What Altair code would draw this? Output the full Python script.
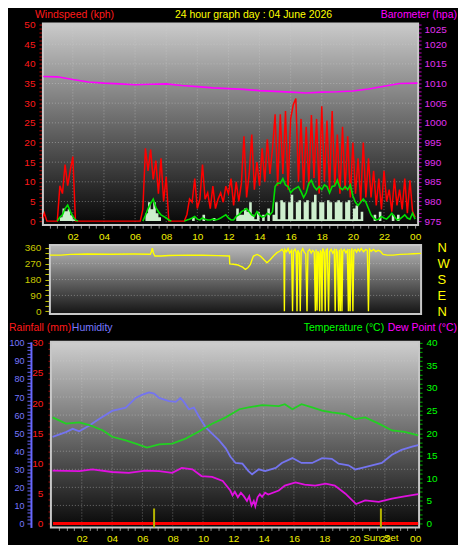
import altair as alt
import pandas as pd

FONT = "Liberation Sans"

# ---------------- data ----------------
hour_grid = [2, 4, 6, 8, 10, 12, 14, 16, 18, 20, 22]
x_tick_hours = [0.5 * k for k in range(1, 49)]

# wind, 10-minute samples from 00:00 to 24:00
wind_hours = [k / 6 for k in range(145)]
wind_gust = [
    0, 2, 0, 0, 0, 0,
    0, 9, 7, 14.4, 9, 12.9,
    16.4, 0, 0, 0, 0, 0,
    0, 0, 0, 0, 0, 0,
    0, 0, 0, 0, 0, 0,
    0, 0, 0, 0, 0, 0,
    0, 0, 0, 3, 18.5, 12.8,
    18.2, 10.6, 15.4, 7, 16, 5,
    11.3, 0, 0, 0, 0, 0,
    0, 0, 1.7, 5.6, 4.8, 10.8,
    3.2, 5.6, 14.4, 5.6, 7.2, 3.2,
    8.9, 3.2, 5.6, 7.2, 4.8, 8.9,
    7, 10.8, 4, 10, 5, 9.6,
    21.6, 6, 12, 22, 8, 15,
    9, 18.5, 10, 20.8, 12, 18.5,
    27.2, 9, 27.2, 12, 28, 8,
    26, 29.6, 31.2, 10, 26, 8,
    24, 9, 27, 11, 26, 7,
    29.2, 10, 25.6, 8, 28, 9,
    22, 7, 24, 8, 21.6, 6,
    20, 7, 16, 5, 20, 6,
    16, 6, 12.8, 4, 10.8, 3,
    12.8, 5, 8, 2.4, 10.8, 4,
    8, 3, 10.8, 2, 10.4, 2.5,
    1,
]
wind_speed = [
    0, 0, 0, 0, 0, 0,
    0, 1, 3.2, 2.5, 3, 1.5,
    0.5, 0, 0, 0, 0, 0,
    0, 0, 0, 0, 0, 0,
    0, 0, 0, 0, 0, 0,
    0, 0, 0, 0, 0, 0,
    0, 0, 0, 0, 2, 4.8,
    3, 4.8, 2, 1, 0, 0,
    0, 0, 0, 0, 0, 0,
    0, 0, 0, 0, 1, 0,
    0, 0, 1.6, 0, 0, 0,
    0.8, 0, 0, 0, 0, 0,
    0, 0, 0, 3.2, 1.6, 1.6,
    3.2, 2.4, 4.8, 1.6, 0.5, 2.4,
    0, 1.6, 0, 3.2, 0, 1.6,
    4.8, 0.5, 5.3, 4.8, 0.5, 4.8,
    6.7, 0.5, 4.8, 5.3, 0.5, 4.8,
    5.3, 0.5, 4.8, 6.7, 0.5, 4.8,
    4.8, 0.5, 5.3, 4.8, 0.5, 4.8,
    5.3, 4.8, 0.5, 4.8, 5.3, 0.5,
    3.2, 4, 0.5, 2.4, 0, 0,
    0, 0, 1.6, 0, 2.4, 0,
    0, 0, 0, 1.6, 0, 1.6,
    0, 0, 0, 0, 0, 0,
    0,
]
N = None
wind_avg = [
    N, N, N, N, N, N,
    0, 1, 1.6, 3.2, 4.1, 2.5,
    1.2, 0.3, 0, N, N, N,
    N, N, N, N, N, N,
    N, N, N, N, N, N,
    N, N, N, N, N, N,
    N, N, N, 0, 1.5, 3.2,
    4.5, 5.6, 3.5, 2.4, 1.6, 1.2,
    0.8, 0.3, 0, N, N, N,
    N, 0, 0.3, 0.5, 0.8, 1.2,
    0.5, 0.3, 0.8, 0.5, 0.3, 0.3,
    0.5, 0.3, 0.5, 0.8, 1.2, 1.6,
    0.8, 0.3, 0.3, 1.2, 1.6, 2.4,
    2.8, 3.2, 2.4, 1.6, 1.2, 2.4,
    1.6, 1, 1.2, 2, 1.6, 2.4,
    8.8, 9.7, 9.6, 10.8, 9.2, 8.8,
    7.2, 8, 8.4, 8.8, 7.5, 6,
    7.2, 9.6, 10.4, 8.8, 8, 8.8,
    8, 9.2, 8.8, 7.2, 8.8, 9,
    10.4, 8.5, 8, 8.8, 8, 9.2,
    6.4, 4.8, 4, 4.8, 5.6, 4.8,
    3.2, 1.6, 0.8, 0.3, 0.5, 1.2,
    0.8, 0.5, 1.2, 2, 1.2, 0.3,
    0.5, 1, 1.6, 0.8, 0.5, 2,
    0.5,
]
wind_grid = [5, 10, 15, 20, 25, 30, 35, 40, 45]

baro_hours = [0.1, 1, 2, 3, 4, 5, 6, 7, 8, 9, 10, 11, 12, 13, 14, 15, 16,
              17, 18, 19, 20, 21, 22, 23, 24.15]
baro_hpa = [1011.8, 1011.7, 1011.0, 1010.4, 1010.1, 1009.9, 1009.7, 1009.8,
            1009.9, 1009.5, 1009.2, 1008.9, 1008.7, 1008.5, 1008.2, 1008.0,
            1007.8, 1007.6, 1007.8, 1007.9, 1008.1, 1008.6, 1009.3, 1010.0,
            1010.1]

# wind direction samples (hour, degrees)
wind_dir_samples = [
    (0.08, 318), (0.8, 318), (1.4, 322), (2.5, 324), (4.0, 323), (5.5, 324),
    (6.6, 323), (6.68, 340), (6.73, 358), (6.8, 330), (6.9, 313), (7.3, 313),
    (7.8, 316), (9.0, 318), (10.0, 317), (11.0, 315), (11.74, 313),
    (11.76, 268), (12.0, 266), (12.3, 262), (12.45, 256), (12.6, 250),
    (12.78, 237), (12.95, 248), (13.1, 265), (13.2, 290), (13.3, 313),
    (13.54, 322), (13.75, 313), (13.97, 293), (14.18, 275), (14.4, 293),
    (14.6, 313), (14.83, 332), (15.0, 340), (15.16, 351),
    (15.2, 345), (15.28, 335), (15.31, 0), (15.34, 350), (15.45, 338),
    (15.55, 355), (15.65, 330), (15.78, 345), (15.84, 0), (15.9, 340),
    (16.0, 352), (16.08, 332), (16.13, 0), (16.18, 345), (16.28, 328),
    (16.34, 0), (16.4, 338), (16.5, 355), (16.6, 335), (16.7, 325),
    (16.78, 0), (16.84, 340), (16.95, 350), (17.05, 330), (17.15, 345),
    (17.25, 335), (17.32, 0), (17.37, 350), (17.43, 5), (17.48, 340),
    (17.55, 328), (17.6, 0), (17.65, 345), (17.7, 335), (17.75, 0),
    (17.8, 355), (17.9, 332), (17.96, 0), (18.02, 345), (18.1, 352),
    (18.18, 0), (18.25, 338), (18.35, 350), (18.45, 330), (18.55, 345),
    (18.61, 0), (18.67, 352), (18.75, 335), (18.83, 0), (18.88, 348),
    (18.94, 0), (19.0, 355), (19.05, 0), (19.1, 340), (19.2, 350),
    (19.3, 332), (19.4, 345), (19.47, 0), (19.52, 352), (19.58, 0),
    (19.64, 340), (19.7, 355), (19.76, 0), (19.82, 345), (19.9, 350),
    (20.0, 335), (20.1, 352), (20.2, 340), (20.3, 355), (20.45, 338),
    (20.6, 350), (20.7, 345), (20.77, 0), (20.84, 352), (20.95, 340),
    (21.1, 350), (21.25, 338), (21.4, 345), (21.55, 340), (21.72, 322),
    (22.0, 318), (22.37, 318), (22.82, 322), (23.28, 324), (23.7, 326),
    (24.19, 328),
]
dir_grid = [90, 180, 270]
compass_deg = [0, 90, 180, 270, 360]

hum_hours = [0.07, 0.95, 1.4, 1.83, 2.5, 3.14, 4.0, 4.9, 5.56, 6.0, 6.44, 6.77,
             7.1, 7.75, 8.2, 8.5, 8.7, 9.07, 9.4, 9.7, 10.17, 10.6, 11.05, 11.5,
             11.8, 12.15, 12.6, 13.0, 13.24, 13.68, 14.1, 14.8, 15.2, 15.9, 16.5,
             17.2, 17.86, 18.5, 18.95, 19.6, 20.05, 20.5, 21.15, 21.8, 22.47,
             23.1, 23.8, 24.2]
humidity = [47.9, 50.6, 52.4, 51, 54.2, 57.8, 62.3, 64.1, 69.5, 71.3, 72.6, 71.9,
            69.5, 67.7, 67.3, 69.5, 67.7, 63.2, 64.1, 59.6, 53.3, 49.7, 46.1, 41.6,
            37.1, 33.5, 33.1, 29.0, 27.2, 30, 29, 30.8, 33.5, 36.2, 33.5,
            33.5, 36.2, 35.8, 33.1, 32.2, 29.9, 30.8, 32.2, 33.5, 38,
            40.7, 42.5, 43.4]
temp_hours = [0.07, 0.95, 1.83, 2.5, 3.4, 4.0, 4.9, 5.56, 6.3, 7.1, 7.97, 8.85,
              9.7, 10.6, 11.5, 12.4, 13.0, 13.9, 15.0, 15.4, 15.9, 16.5, 17.2,
              17.86, 18.5, 19.4, 20.05, 20.7, 21.6, 22.47, 23.3, 24.2]
temperature = [23.5, 22.1, 22.4, 21.8, 20.6, 19.2, 18.4, 17.7, 16.8, 17.5, 17.7, 18.8,
               20.3, 22.1, 23.5, 25.3, 25.7, 26.2, 26, 26.4, 25.3, 26.4, 25.7,
               25, 24.6, 24.2, 23.1, 23.5, 22.1, 20.6, 20.3, 19.5]
dew_hours = [0.07, 1.83, 2.7, 4.0, 5.1, 6.2, 7.1, 7.97, 8.6, 9.3, 9.9, 10.6, 11.3,
             11.8, 11.95, 12.1, 12.3, 12.5, 12.7, 12.9, 13.05, 13.2, 13.35, 13.45,
             13.6, 13.75, 13.9, 14.1, 14.3, 15.0, 15.4, 16.1, 16.7, 17.4, 18.1,
             18.7, 19.4, 20.1, 20.7, 21.6, 22.47, 23.3, 24.2]
dew_point = [11.7, 11.6, 12, 11.4, 11.2, 11.7, 11.6, 11.2, 12.3, 12, 10.5, 10.3, 9.4,
             7.3, 6.2, 7.0, 5.8, 6.8, 6.0, 5.0, 6.0, 4.0, 5.0, 3.8,
             5.8, 6.5, 5.9, 6.8, 6.4, 7.3, 8.4, 9.1, 8.6, 8.4, 8.8,
             8.4, 6.6, 4.3, 5.1, 4.8, 5.5, 6, 6.5]
rain_hours = [0.1, 24.2]
rain_mm = [0, 0]
hum_grid = [10, 20, 30, 40, 50, 60, 70, 80, 90]
sun_hours = [6.77, 21.74]
sunset_hour = [21.74]

# ---------------- layout constants ----------------
VIEW_W = 379
P1_X0, P1_X1, P1_H = 0, 376, 202
P2_X0, P2_X1, P2_PH, P2_H = 7, 379, 69, 77
P3_X0, P3_X1, P3_H = 8, 377, 186

HOUR_EXPR = ("datum.value % 2 == 0 ? ((datum.value % 24) < 10 ? '0' : '') + "
             "(datum.value % 24) : ''")
COMPASS_EXPR = ("datum.value == 90 ? 'E' : datum.value == 180 ? 'S' : "
                "datum.value == 270 ? 'W' : 'N'")


def every(n):
    return f"datum.value % {n} == 0 ? '' + datum.value : ''"


XAXIS = alt.Axis(orient="bottom", values=x_tick_hours, labelExpr=HOUR_EXPR,
                 labelColor="#f0f000", tickColor="#909090", tickSize=3,
                 labelPadding=3, labelFont=FONT, labelFontSize=10,
                 labelOverlap=False, labelFlush=False, title=None,
                 grid=False, domain=False)


def yaxis(orient, values, n, color, tcolor, offset, tsize, pad, size=10,
          domain=False, dcolor="#000000", flush=False):
    return alt.Axis(orient=orient, values=list(values), labelExpr=every(n),
                    labelColor=color, tickColor=tcolor, tickSize=tsize,
                    labelPadding=pad, labelFont=FONT, labelFontSize=size,
                    offset=offset, title=None, grid=False, domain=domain,
                    domainColor=dcolor, domainWidth=2, labelOverlap=False,
                    labelFlush=flush)


def grad(top, bottom):
    return {"gradient": "linear", "x1": 0, "y1": 0, "x2": 0, "y2": 1,
            "stops": [{"offset": 0, "color": top}, {"offset": 1, "color": bottom}]}


def frame(x0, x1, h, top, bottom):
    return alt.Chart(pd.DataFrame({"k": [0]})).mark_rect(
        fill=grad(top, bottom), stroke="#c8c8c8", strokeWidth=2
    ).encode(x=alt.value(x0), x2=alt.value(x1), y=alt.value(0), y2=alt.value(h))


def label(text, x, y, color, align="left", baseline="top", size=11):
    return alt.Chart(pd.DataFrame({"t": [text]})).mark_text(
        align=align, baseline=baseline, font=FONT, fontSize=size, color=color
    ).encode(x=alt.value(x), y=alt.value(y), text="t:N")


GRID = dict(color="#d0d0d0", strokeDash=[1, 2], strokeWidth=1, opacity=0.45)

# ---------------- panel 1 : wind + barometer ----------------
x1 = alt.Scale(domain=[0.077, 24.19], range=[P1_X0, P1_X1], nice=False, zero=False)
y_wind = alt.Scale(domain=[-1.015, 50.25], nice=False, zero=False)
y_baro = alt.Scale(domain=[973.985, 1025.25], nice=False, zero=False)
WIND_AX = yaxis("left", range(0, 51), 5, "#ff1a1a", "#b00000", 0, 4, 4)
BARO_AX = yaxis("right", range(975, 1026), 5, "#e030f0", "#c000c0", -3, 3, 3, flush=2)

wind_df = pd.DataFrame({"h": wind_hours, "gust": wind_gust, "spd": wind_speed})
rows, seg, on = [], 0, False
for h, v in zip(wind_hours, wind_avg):
    if v is None:
        on = False
        continue
    if not on:
        seg += 1
    on = True
    rows.append({"h": h, "avg": v, "seg": seg})
avg_df = pd.DataFrame(rows)

bg1 = frame(P1_X0, P1_X1, P1_H, "#cacaca", "#060606")
grid1y = alt.Chart(pd.DataFrame({"v": wind_grid})).mark_rule(**GRID).encode(
    y=alt.Y("v:Q", scale=y_wind, axis=WIND_AX), x=alt.value(P1_X0), x2=alt.value(P1_X1))
grid1x = alt.Chart(pd.DataFrame({"h": hour_grid})).mark_rule(**GRID).encode(
    x=alt.X("h:Q", scale=x1, axis=XAXIS))
gust = alt.Chart(wind_df).mark_line(color="#ff0000", strokeWidth=1.5, clip=True).encode(
    x=alt.X("h:Q", scale=x1, axis=XAXIS),
    y=alt.Y("gust:Q", scale=y_wind, axis=WIND_AX))
pale = alt.Chart(wind_df).mark_area(
    interpolate="step-after", color="#cdeecd", clip=True
).encode(x=alt.X("h:Q", scale=x1, axis=XAXIS),
         y=alt.Y("spd:Q", scale=y_wind, axis=WIND_AX), y2=alt.datum(0))
avg = alt.Chart(avg_df).mark_line(color="#00e000", strokeWidth=1.6, clip=True).encode(
    x=alt.X("h:Q", scale=x1, axis=XAXIS),
    y=alt.Y("avg:Q", scale=y_wind, axis=WIND_AX), detail="seg:N")
t1 = label("Windspeed (kph)", -8, -14, "#ff1a1a", size=10.5)
t2 = label("24 hour graph day : 04 June 2026", 211, -14, "#ffff00", align="center",
           size=10.5)
t3 = label("Barometer (hpa)", 415, -14, "#ff00ff", align="right", size=10.5)
wind_group = alt.layer(bg1, grid1y, grid1x, gust, pale, avg, t1, t2, t3)

baro = alt.Chart(pd.DataFrame({"h": baro_hours, "hpa": baro_hpa})).mark_line(
    color="#ff00ff", strokeWidth=1.6
).encode(x=alt.X("h:Q", scale=x1, axis=XAXIS),
         y=alt.Y("hpa:Q", scale=y_baro, axis=BARO_AX))
p1 = alt.layer(wind_group, baro).resolve_scale(y="independent").properties(
    width=VIEW_W, height=P1_H)

# ---------------- panel 2 : wind direction ----------------
x2s = alt.Scale(domain=[0.077, 24.19], range=[P2_X0, P2_X1], nice=False, zero=False)
y_dir = alt.Scale(domain=[-15, 375], range=[P2_PH, 0], nice=False, zero=False)
DIR_AX = yaxis("left", range(0, 361, 30), 90, "#c8c800", "#c8c800", -7, 5, 4)
dir_df = pd.DataFrame({"h": [p[0] for p in wind_dir_samples],
                       "deg": [p[1] for p in wind_dir_samples]})
bg2 = frame(P2_X0, P2_X1, P2_PH, "#bababa", "#141414")
grid2 = alt.Chart(pd.DataFrame({"v": dir_grid})).mark_rule(**GRID).encode(
    y=alt.Y("v:Q", scale=y_dir, axis=DIR_AX), x=alt.value(P2_X0), x2=alt.value(P2_X1))
dirline = alt.Chart(dir_df).mark_line(color="#ffff00", strokeWidth=1.4).encode(
    x=alt.X("h:Q", scale=x2s, axis=None),
    y=alt.Y("deg:Q", scale=y_dir, axis=DIR_AX))
compass = alt.Chart(pd.DataFrame({"deg": compass_deg})).mark_point(opacity=0).encode(
    y=alt.Y("deg:Q", scale=y_dir,
            axis=alt.Axis(orient="right", values=compass_deg, labelExpr=COMPASS_EXPR,
                          ticks=False, labelPadding=16, labelColor="#ffff00",
                          labelFont=FONT, labelFontSize=13, title=None, grid=False,
                          domain=False, labelOverlap=False, labelFlush=False)))
p2 = alt.layer(alt.layer(bg2, grid2, dirline), compass).resolve_scale(
    y="independent").properties(width=VIEW_W, height=P2_H)

# ---------------- panel 3 : rain, humidity, temperature ----------------
x3 = alt.Scale(domain=[-0.04, 24.26], range=[P3_X0, P3_X1], nice=False, zero=False)
y_hum = alt.Scale(domain=[-2.21, 100.55], nice=False, zero=False)
y_rain = alt.Scale(domain=[-0.66, 30.17], nice=False, zero=False)
y_temp = alt.Scale(domain=[-0.88, 40.22], nice=False, zero=False)
HUM_AX = yaxis("left", range(0, 101, 2), 10, "#7878ff", "#6868ff", 12, 4, 3,
               size=9, domain=True, dcolor="#6868ff")
RAIN_AX = yaxis("left", range(0, 31), 5, "#ff1a1a", "#a00000", -8, 3, 5)
TEMP_AX = yaxis("right", range(0, 41), 5, "#00ff00", "#00b000", -2, 3, 4)

bg3 = frame(P3_X0, P3_X1, P3_H, "#cecece", "#080808")
grid3y = alt.Chart(pd.DataFrame({"v": hum_grid})).mark_rule(**GRID).encode(
    y=alt.Y("v:Q", scale=y_hum, axis=HUM_AX), x=alt.value(P3_X0), x2=alt.value(P3_X1))
grid3x = alt.Chart(pd.DataFrame({"h": hour_grid})).mark_rule(**GRID).encode(
    x=alt.X("h:Q", scale=x3, axis=XAXIS))
hum_line = alt.Chart(pd.DataFrame({"h": hum_hours, "hum": humidity})).mark_line(
    color="#7474f0", strokeWidth=1.8
).encode(x=alt.X("h:Q", scale=x3, axis=XAXIS),
         y=alt.Y("hum:Q", scale=y_hum, axis=HUM_AX))
l1 = label("Rainfall (mm)", -34, -14, "#ff1a1a", baseline="middle", size=10.5)
l2 = label("Humidity", 29, -14, "#7878ff", baseline="middle", size=10.5)
l3 = label("Temperature (°C)", 342, -14, "#00ff00", align="right", baseline="middle",
           size=10.5)
l4 = label("Dew Point (°C)", 415, -14, "#ff00ff", align="right", baseline="middle",
           size=10.5)
hum_group = alt.layer(bg3, grid3y, grid3x, hum_line, l1, l2, l3, l4)

rain_line = alt.Chart(pd.DataFrame({"h": rain_hours, "mm": rain_mm})).mark_line(
    color="#ff0000", strokeWidth=3
).encode(x=alt.X("h:Q", scale=x3, axis=XAXIS),
         y=alt.Y("mm:Q", scale=y_rain, axis=RAIN_AX))
sun_rules = alt.Chart(pd.DataFrame({"h": sun_hours})).mark_rule(
    color="#b4b400", strokeWidth=2
).encode(x=alt.X("h:Q", scale=x3, axis=XAXIS),
         y=alt.value(P3_H - 19), y2=alt.value(P3_H))
sunset = alt.Chart(pd.DataFrame({"h": sunset_hour, "t": ["Sun Set"]})).mark_text(
    align="center", baseline="top", font=FONT, fontSize=10, color="#f0f000"
).encode(x=alt.X("h:Q", scale=x3, axis=XAXIS), y=alt.value(P3_H + 6), text="t:N")
rain_group = alt.layer(rain_line, sun_rules, sunset)

temp_line = alt.Chart(pd.DataFrame({"h": temp_hours, "t": temperature})).mark_line(
    color="#22d022", strokeWidth=1.8
).encode(x=alt.X("h:Q", scale=x3, axis=XAXIS),
         y=alt.Y("t:Q", scale=y_temp, axis=TEMP_AX))
dew_line = alt.Chart(pd.DataFrame({"h": dew_hours, "d": dew_point})).mark_line(
    color="#e010e0", strokeWidth=1.8
).encode(x=alt.X("h:Q", scale=x3, axis=XAXIS),
         y=alt.Y("d:Q", scale=y_temp, axis=TEMP_AX))
temp_group = alt.layer(temp_line, dew_line)

p3 = alt.layer(hum_group, rain_group, temp_group).resolve_scale(
    y="independent").properties(width=VIEW_W, height=P3_H)

chart = alt.vconcat(p1, p2, p3, spacing=20, bounds="flush").resolve_scale(
    x="independent", y="independent"
).properties(padding=0, background="#000000").configure_view(stroke="transparent")

chart.save("out.html", embed_options={"renderer": "svg", "actions": False})
